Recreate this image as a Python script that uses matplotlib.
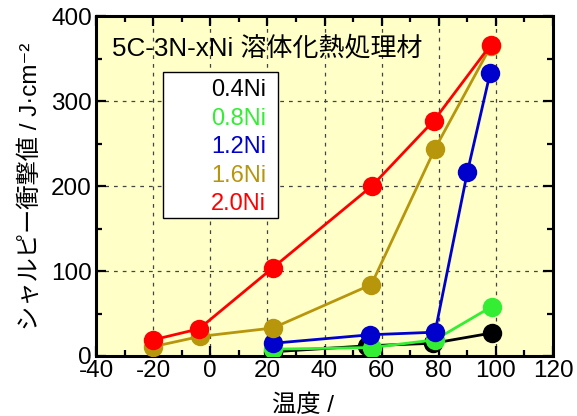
import matplotlib.pyplot as plt
from matplotlib.patches import Rectangle
from matplotlib.ticker import MultipleLocator

plt.rcParams['font.family'] = ['Liberation Sans', 'Noto Sans CJK JP', 'DejaVu Sans']

# ---- data ----
series_names = ["0.4Ni", "0.8Ni", "1.2Ni", "1.6Ni", "2.0Ni"]
colors = ["#000000", "#33EE33", "#0000CC", "#B8960C", "#FF0000"]

temp_04 = [22, 55, 78, 98.5]
val_04 = [5, 12, 15, 27]

temp_08 = [22, 56.5, 78.7, 98.5]
val_08 = [8, 10, 19, 58]

temp_12 = [22, 56, 78.7, 90, 98]
val_12 = [15, 25, 28, 216, 333]

temp_16 = [-20, -3.6, 22, 56.4, 78.7, 98.3]
val_16 = [11, 23, 33, 84, 244, 365]

temp_20 = [-20, -3.9, 22, 56.6, 78.3, 98.2]
val_20 = [19, 32, 104, 200, 277, 366]

temps = [temp_04, temp_08, temp_12, temp_16, temp_20]
vals = [val_04, val_08, val_12, val_16, val_20]

x_ticks = [-40, -20, 0, 20, 40, 60, 80, 100, 120]
y_ticks = [0, 100, 200, 300, 400]

fig = plt.figure(figsize=(5.77, 4.16), dpi=100)
ax = fig.add_axes([96 / 577, 60 / 416, 457 / 577, 340 / 416])
ax.set_facecolor("#FFFFC8")

for t, v, c in zip(temps, vals, colors):
    ax.plot(t, v, color=c, linewidth=2.0, marker='o', markersize=14,
            markeredgewidth=0, zorder=3)

ax.set_xlim(-40, 120)
ax.set_ylim(0, 400)
ax.set_xticks(x_ticks)
ax.set_xticklabels([f"{t:d}" for t in x_ticks])
ax.set_yticks(y_ticks)
ax.xaxis.set_minor_locator(MultipleLocator(10))
ax.yaxis.set_minor_locator(MultipleLocator(50))

# dashed grid at the inner major ticks only
for gx in [-20, 0, 20, 40, 60, 80, 100]:
    ax.axvline(gx, color="#444444", linewidth=0.9, linestyle=(0, (3, 4)), zorder=1)
for gy in [100, 200, 300]:
    ax.axhline(gy, color="#444444", linewidth=0.9, linestyle=(0, (3, 4)), zorder=1)

ax.tick_params(which='both', direction='in', top=True, right=True,
               width=1.6, labelsize=17.5)
ax.tick_params(axis='y', pad=3)
ax.tick_params(axis='x', pad=3)
ax.tick_params(which='major', length=7)
ax.tick_params(which='minor', length=4)
for sp in ax.spines.values():
    sp.set_linewidth(2.2)

ax.set_ylabel("シャルピー衝撃値 / J·cm⁻²", fontsize=17.5)
ax.yaxis.set_label_coords(-0.118, 0.5)
ax.set_xlabel("温度 /", fontsize=17.5)
ax.xaxis.set_label_coords((303 - 96) / 457, -0.114)

ax.text(0.035, 0.906, "5C-3N-xNi 溶体化熱処理材", transform=ax.transAxes,
        fontsize=18.7, ha='left', va='center')

# legend box drawn by hand: coloured labels, right aligned, no markers
box = Rectangle(((163 - 96) / 457, (356 - 218) / 340), 115 / 457, 146 / 340,
                transform=ax.transAxes, facecolor='white', edgecolor='black',
                linewidth=1.0, zorder=5)
ax.add_patch(box)
for i, (name, c) in enumerate(zip(series_names, colors)):
    y_px = 90 + i * 28.5
    ax.text((266 - 96) / 457, (356 - y_px) / 340, name, transform=ax.transAxes,
            color=c, fontsize=17, ha='right', va='center', zorder=6)

fig.savefig("out.png", dpi=100)
